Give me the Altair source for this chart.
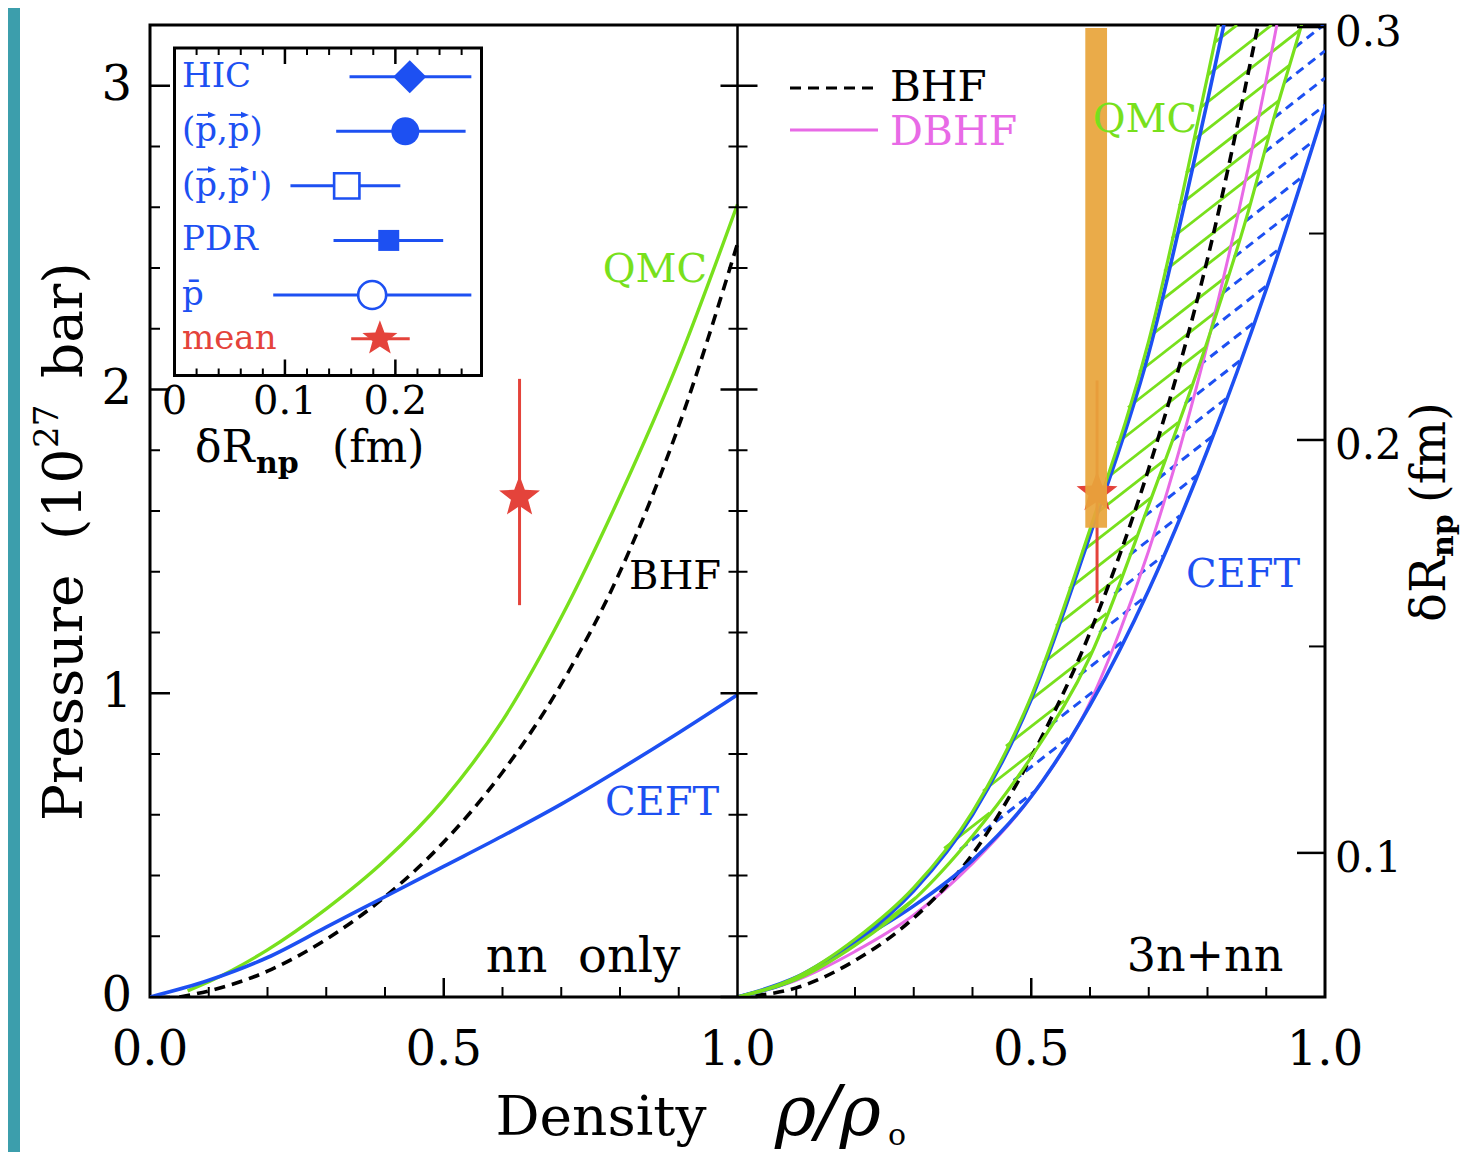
import altair as alt
import numpy as np
import pandas as pd

FONT = "DejaVu Serif"
BLUE = "#1d50f2"
GREEN = "#78e01c"
MAGENTA = "#e86ae6"
RED = "#e4433b"
ORANGE = "#e8a53b"
TEAL = "#3c9eac"

# ---------------- data (density rho/rho0, pressure in 1e27 bar) ----------------
# left panel : nn only
NN_QMC_X = [0.064, 0.1, 0.2, 0.3, 0.4, 0.5, 0.6, 0.7, 0.8, 0.9, 1.0]
NN_QMC_P = [0.02, 0.05, 0.155, 0.29, 0.45, 0.65, 0.91, 1.25, 1.65, 2.095, 2.61]
NN_BHF_X = [0.05, 0.1, 0.2, 0.3, 0.4, 0.5, 0.6, 0.7, 0.8, 0.9, 1.0]
NN_BHF_P = [0.0, 0.02, 0.085, 0.19, 0.33, 0.51, 0.74, 1.03, 1.40, 1.88, 2.48]
NN_CEFT_X = [0.0, 0.1, 0.2, 0.3, 0.4, 0.5, 0.6, 0.7, 0.8, 0.9, 1.0]
NN_CEFT_P = [0.0, 0.055, 0.13, 0.23, 0.33, 0.43, 0.53, 0.635, 0.75, 0.87, 0.995]

# right panel : 3n + nn
QMC_UP_X = [0.0, 0.1, 0.2, 0.3, 0.4, 0.5, 0.6, 0.7, 0.8, 0.9]
QMC_UP_P = [0.0, 0.065, 0.19, 0.36, 0.61, 0.99, 1.54, 2.16, 3.03, 3.95]
QMC_LO_X = [0.0, 0.1, 0.2, 0.3, 0.4, 0.5, 0.6, 0.7, 0.8, 0.867, 0.912, 0.96, 1.0]
QMC_LO_P = [0.0, 0.058, 0.17, 0.32, 0.53, 0.79, 1.12, 1.62, 2.16, 2.57, 2.887, 3.2, 3.48]
CEFT_UP_X = [0.0, 0.1, 0.2, 0.3, 0.4, 0.5, 0.6, 0.7, 0.8, 0.9]
CEFT_UP_P = [0.0, 0.06, 0.18, 0.35, 0.60, 0.98, 1.52, 2.12, 2.95, 3.85]
CEFT_LO_X = [0.0, 0.1, 0.2, 0.3, 0.4, 0.5, 0.6, 0.7, 0.8, 0.9, 1.0]
CEFT_LO_P = [0.0, 0.065, 0.18, 0.30, 0.45, 0.66, 0.96, 1.34, 1.80, 2.33, 2.93]
BHF_X = [0.0, 0.1, 0.2, 0.3, 0.4, 0.5, 0.6, 0.7, 0.8, 0.9, 1.0]
BHF_P = [0.0, 0.03, 0.12, 0.26, 0.47, 0.79, 1.20, 1.74, 2.43, 3.33, 4.3]
DBHF_X = [0.0, 0.1, 0.2, 0.3, 0.4, 0.5, 0.6, 0.65, 0.7, 0.8, 0.9, 0.918]
DBHF_P = [0.0, 0.055, 0.15, 0.27, 0.44, 0.66, 0.97, 1.20, 1.47, 2.15, 3.02, 3.2]

# mean constraint (star with error bar) and orange constraint strip
MEAN_NN = {"x": 0.629, "P": 1.646, "lo": 1.29, "hi": 2.035}
MEAN_3N = {"x": 0.612, "P": 1.66, "lo": 1.297, "hi": 2.03}
STRIP = {"x0": 0.592, "x1": 0.629, "p0": 1.545, "p1": 3.19}

# inset: delta R_np (fm)
IN_LABELS = ["HIC", "(p,p)", "(p,p')", "PDR", "p\u0304", "mean"]
IN_ROW = [0, 1, 2, 3, 4, 4.8]
IN_VAL = [0.213, 0.209, 0.156, 0.194, 0.179, 0.186]
IN_LO = [0.1585, 0.1464, 0.105, 0.144, 0.0894, 0.160]
IN_HI = [0.2688, 0.2636, 0.2045, 0.2433, 0.2688, 0.213]
IN_ARROW_ROWS = [1, 2]          # labels whose p's carry a vector arrow
IN_TICK_MAJOR = [0.1, 0.2]
IN_TICK_MINOR = [0.02, 0.04, 0.06, 0.08, 0.12, 0.14, 0.16, 0.18, 0.22, 0.24, 0.26]
IN_LABEL_VAL = [0, 0.1, 0.2]
IN_LABEL_TXT = ["0", "0.1", "0.2"]

# axis ticks and tick labels
P_MAJOR = [0, 1, 2, 3]
P_MINOR = [0.2, 0.4, 0.6, 0.8, 1.2, 1.4, 1.6, 1.8, 2.2, 2.4, 2.6, 2.8]
P_LABELS = ["0", "1", "2", "3"]
X_MAJOR = [0.5]
X_MINOR = [0.1, 0.2, 0.3, 0.4, 0.6, 0.7, 0.8, 0.9]
X_LABEL_VAL = [0.0, 0.5, 1.0, 0.5, 1.0]
X_LABEL_PANEL = [0, 0, 0, 1, 1]
X_LABEL_TXT = ["0.0", "0.5", "1.0", "0.5", "1.0"]
R_MAJOR = [0.1, 0.2, 0.3]
R_MINOR = [0.15, 0.25]
R_LABELS = ["0.1", "0.2", "0.3"]

# ---------------- layout ----------------
W, H = 1175, 972
XS = alt.Scale(domain=[0, 2], nice=False, zero=False)
YS = alt.Scale(domain=[0, 3.2], nice=False, zero=False)
IXS = alt.Scale(domain=[0, 0.278], range=[24.5, 331.5], nice=False, zero=False)
IYS = alt.Scale(domain=[0, 4], range=[51.7, 270], nice=False, zero=False)
RYS = alt.Scale(domain=[0.0651, 0.3005], nice=False, zero=False)

pts = []
for k in range(10):
    a = -np.pi / 2 + k * np.pi / 5
    r = 1.0 if k % 2 == 0 else 0.42
    pts.append(f"{r*np.cos(a):.4f},{r*np.sin(a):.4f}")
STAR = "M" + "L".join(pts) + "Z"
ARROW_HEAD = "M-1,-0.8L1,0L-1,0.8Z"


def one():
    return pd.DataFrame({"k": [0]})


def txt(s, x, y, size, color="black", **kw):
    return alt.Chart(pd.DataFrame({"t": [s]})).mark_text(
        font=FONT, fontSize=size, color=color, **kw
    ).encode(text="t:N", x=alt.value(x), y=alt.value(y))


def prule(x, x2, y, y2, color="black", width=3.0, dash=None):
    kw = dict(color=color, strokeWidth=width)
    if dash:
        kw["strokeDash"] = dash
    return alt.Chart(one()).mark_rule(**kw).encode(
        x=alt.value(x), x2=alt.value(x2), y=alt.value(y), y2=alt.value(y2))


def curve(xs, ps, color, offset=0.0, dash=None, width=3.6):
    df = pd.DataFrame({"X": [x + offset for x in xs], "P": ps})
    kw = dict(color=color, strokeWidth=width, clip=True, interpolate="monotone")
    if dash:
        kw["strokeDash"] = dash
    return alt.Chart(df).mark_line(**kw).encode(
        x=alt.X("X:Q", scale=XS, axis=None), y=alt.Y("P:Q", scale=YS, axis=None))


def hatch(ux, up, dx, dp, phase, step=0.089, slope=1.51):
    xg = np.linspace(0, 1, 4001)
    U = np.interp(xg, ux, up)
    D = np.interp(xg, dx, dp)
    segs = []
    b = -2.0 + phase * step
    while b < 3.3:
        L = slope * xg + b
        inside = (L <= U) & (L >= D) & (L <= 3.2) & (L >= 0.15)
        idx = np.flatnonzero(inside)
        if idx.size > 1:
            runs = np.split(idx, np.flatnonzero(np.diff(idx) > 1) + 1)
            for r in runs:
                if r.size > 1 and xg[r[-1]] - xg[r[0]] > 0.004:
                    x0, x1 = xg[r[0]], xg[r[-1]]
                    segs.append((1 + x0, slope * x0 + b, 1 + x1, slope * x1 + b))
        b += step
    return pd.DataFrame(segs, columns=["X0", "P0", "X1", "P1"])


def seg_chart(df, color, dash=None, width=2.8):
    kw = dict(color=color, strokeWidth=width, clip=True)
    if dash:
        kw["strokeDash"] = dash
    return alt.Chart(df).mark_rule(**kw).encode(
        x=alt.X("X0:Q", scale=XS, axis=None), y=alt.Y("P0:Q", scale=YS, axis=None),
        x2="X1:Q", y2="P1:Q")


def mean_marks(m, offset):
    df = pd.DataFrame({"X": [m["x"] + offset], "P": [m["P"]], "lo": [m["lo"]], "hi": [m["hi"]]})
    bar = alt.Chart(df).mark_rule(color=RED, strokeWidth=3).encode(
        x=alt.X("X:Q", scale=XS, axis=None), y=alt.Y("lo:Q", scale=YS, axis=None), y2="hi:Q")
    star = alt.Chart(df).mark_point(shape=STAR, filled=True, color=RED, size=1850, opacity=1).encode(
        x=alt.X("X:Q", scale=XS, axis=None), y=alt.Y("P:Q", scale=YS, axis=None))
    return [bar, star]


# ---------------- main layer ----------------
main = []
main.append(alt.Chart(one()).mark_rect(color=TEAL).encode(
    x=alt.value(-142), x2=alt.value(-130), y=alt.value(-17), y2=alt.value(1135)))

# hatching (right panel)
main.append(seg_chart(hatch(QMC_LO_X, QMC_LO_P, CEFT_LO_X, CEFT_LO_P, 0.5), BLUE, dash=[9, 6], width=3))
main.append(seg_chart(hatch(QMC_UP_X, QMC_UP_P, QMC_LO_X, QMC_LO_P, 0.0), GREEN, width=2.8))

# right panel curves
main.append(curve(DBHF_X, DBHF_P, MAGENTA, offset=1, width=3))
main.append(curve(BHF_X, BHF_P, "black", offset=1, dash=[11, 7]))
main.append(curve(CEFT_LO_X, CEFT_LO_P, BLUE, offset=1))
main.append(curve(CEFT_UP_X, CEFT_UP_P, BLUE, offset=1))
main.append(curve(QMC_LO_X, QMC_LO_P, GREEN, offset=1, width=3.2))
main.append(curve(QMC_UP_X, QMC_UP_P, GREEN, offset=1, width=3.2))

# left panel curves
main.append(curve(NN_QMC_X, NN_QMC_P, GREEN, width=3.4))
main.append(curve(NN_BHF_X, NN_BHF_P, "black", dash=[11, 7]))
main.append(curve(NN_CEFT_X, NN_CEFT_P, BLUE))

main += mean_marks(MEAN_NN, 0)
main += mean_marks(MEAN_3N, 1)
strip_df = pd.DataFrame({"x0": [STRIP["x0"] + 1], "x1": [STRIP["x1"] + 1],
                         "p0": [STRIP["p0"]], "p1": [STRIP["p1"]]})
main.append(alt.Chart(strip_df).mark_rect(color=ORANGE, opacity=0.93).encode(
    x=alt.X("x0:Q", scale=XS, axis=None), x2="x1:Q",
    y=alt.Y("p0:Q", scale=YS, axis=None), y2="p1:Q"))

# panel divider
main.append(prule(W / 2, W / 2, 0, H, width=2.5))

# axis ticks (inward)
main.append(alt.Chart(pd.DataFrame({"P": P_MAJOR})).mark_rule(color="black", strokeWidth=2.5).encode(
    y=alt.Y("P:Q", scale=YS, axis=None), x=alt.value(0), x2=alt.value(20)))
main.append(alt.Chart(pd.DataFrame({"P": P_MINOR})).mark_rule(color="black", strokeWidth=2).encode(
    y=alt.Y("P:Q", scale=YS, axis=None), x=alt.value(0), x2=alt.value(10)))
main.append(alt.Chart(pd.DataFrame({"P": P_MAJOR})).mark_rule(color="black", strokeWidth=2.5).encode(
    y=alt.Y("P:Q", scale=YS, axis=None), x=alt.value(W / 2 - 17), x2=alt.value(W / 2 + 20)))
main.append(alt.Chart(pd.DataFrame({"P": P_MINOR})).mark_rule(color="black", strokeWidth=2).encode(
    y=alt.Y("P:Q", scale=YS, axis=None), x=alt.value(W / 2 - 9), x2=alt.value(W / 2 + 10)))
xmaj = [v + o for o in (0, 1) for v in X_MAJOR]
xmin = [v + o for o in (0, 1) for v in X_MINOR]
main.append(alt.Chart(pd.DataFrame({"X": xmaj})).mark_rule(color="black", strokeWidth=2.5).encode(
    x=alt.X("X:Q", scale=XS, axis=None), y=alt.value(H), y2=alt.value(H - 19)))
main.append(alt.Chart(pd.DataFrame({"X": xmin})).mark_rule(color="black", strokeWidth=2).encode(
    x=alt.X("X:Q", scale=XS, axis=None), y=alt.value(H), y2=alt.value(H - 10)))

# tick labels
main.append(alt.Chart(pd.DataFrame({"P": P_MAJOR, "t": P_LABELS})).mark_text(
    font=FONT, fontSize=48, align="right", baseline="middle").encode(
    y=alt.Y("P:Q", scale=YS, axis=None), x=alt.value(-18), text="t:N"))
xl = pd.DataFrame({"X": [v + o for v, o in zip(X_LABEL_VAL, X_LABEL_PANEL)], "t": X_LABEL_TXT})
main.append(alt.Chart(xl).mark_text(font=FONT, fontSize=48, baseline="middle").encode(
    x=alt.X("X:Q", scale=XS, axis=None), y=alt.value(H + 54), text="t:N"))

# in-plot annotations
main.append(txt("QMC", 505, 245, 40, GREEN))
main.append(txt("BHF", 525, 552, 40))
main.append(txt("CEFT", 512, 778, 40, BLUE))
main.append(txt("nn\u00a0\u00a0only", 433, 933, 48))
main.append(txt("QMC", 995, 95, 40, GREEN))
main.append(txt("CEFT", 1093, 550, 40, BLUE))
main.append(txt("3n+nn", 1055, 932, 46))
main.append(prule(640, 728, 63, 63, dash=[11, 7]))
main.append(txt("BHF", 740, 63, 42, align="left"))
main.append(prule(640, 728, 105, 105, color=MAGENTA, width=3))
main.append(txt("DBHF", 740, 108, 41, MAGENTA, align="left"))

# axis titles
TL = dict(align="left", baseline="alphabetic", angle=270)
main.append(txt("Pressure", -68, 796, 55, **TL))
main.append(txt("(10", -68, 515, 55, **TL))
main.append(txt("27", -92, 423, 34, **TL))
main.append(txt("bar)", -68, 353, 55, **TL))
main.append(txt("Density", 451, 1110, 55, baseline="alphabetic"))
main.append(txt("\u03c1/\u03c1", 625, 1110, 70, align="left", baseline="alphabetic", fontStyle="italic"))
main.append(txt("o", 738, 1120, 30, align="left", baseline="alphabetic"))
main.append(txt("\u03b4R", 1295, 597, 48, **TL))
main.append(txt("np", 1303, 532, 30, fontWeight="bold", **TL))
main.append(txt("(fm)", 1295, 478, 48, **TL))

main_layer = alt.layer(*main)

# ---------------- inset layer ----------------
ins = []
ins.append(alt.Chart(one()).mark_rect(fill="white", stroke="black", strokeWidth=3).encode(
    x=alt.value(24.5), x2=alt.value(331.5), y=alt.value(23), y2=alt.value(350.5)))
for vals, ln, sw in ((IN_TICK_MAJOR, 16, 2.5), (IN_TICK_MINOR, 7, 2)):
    d = pd.DataFrame({"v": vals})
    ins.append(alt.Chart(d).mark_rule(color="black", strokeWidth=sw).encode(
        x=alt.X("v:Q", scale=IXS, axis=None), y=alt.value(350.5), y2=alt.value(350.5 - ln)))
    ins.append(alt.Chart(d).mark_rule(color="black", strokeWidth=sw).encode(
        x=alt.X("v:Q", scale=IXS, axis=None), y=alt.value(23), y2=alt.value(23 + ln)))

idf = pd.DataFrame({"row": IN_ROW, "val": IN_VAL, "lo": IN_LO, "hi": IN_HI, "lab": IN_LABELS,
                    "c": [BLUE] * 5 + [RED]})
ins.append(alt.Chart(idf).mark_rule(strokeWidth=3).encode(
    x=alt.X("lo:Q", scale=IXS, axis=None), x2="hi:Q",
    y=alt.Y("row:Q", scale=IYS, axis=None), color=alt.Color("c:N", scale=None)))

SHAPES = ["diamond", "circle", "square", "square", "circle", STAR]
FILLED = [True, True, False, True, False, True]
SIZES = [1089, 784, 640, 441, 784, 1355]
for i in range(6):
    d = idf.iloc[[i]]
    col = RED if i == 5 else BLUE
    if FILLED[i]:
        mk = alt.Chart(d).mark_point(shape=SHAPES[i], filled=True, color=col, size=SIZES[i], opacity=1)
    else:
        mk = alt.Chart(d).mark_point(shape=SHAPES[i], filled=True, fill="white", stroke=col,
                                     strokeWidth=2.6, size=SIZES[i], opacity=1)
    ins.append(mk.encode(x=alt.X("val:Q", scale=IXS, axis=None), y=alt.Y("row:Q", scale=IYS, axis=None)))

ins.append(alt.Chart(idf).mark_text(font=FONT, fontSize=34, align="left", baseline="middle").encode(
    x=alt.value(32), y=alt.Y("row:Q", scale=IYS, axis=None), text="lab:N",
    color=alt.Color("c:N", scale=None)))

# vector arrows over the p's of the (p,p) and (p,p') labels (drawn as small line + head)
arr = pd.DataFrame({"row": IN_ARROW_ROWS})
arr_y = alt.Y("ay:Q", scale=IYS, axis=None)
for px in (56, 89):
    base = alt.Chart(arr).transform_calculate(ay="datum.row - 0.3")
    ins.append(base.mark_rule(color=BLUE, strokeWidth=2).encode(
        x=alt.value(px - 9), x2=alt.value(px + 6), y=arr_y))
    ins.append(base.mark_point(shape=ARROW_HEAD, filled=True, color=BLUE, size=64, opacity=1).encode(
        x=alt.value(px + 6), y=arr_y))

ins.append(alt.Chart(pd.DataFrame({"v": IN_LABEL_VAL, "t": IN_LABEL_TXT})).mark_text(
    font=FONT, fontSize=40, baseline="middle").encode(
    x=alt.X("v:Q", scale=IXS, axis=None), y=alt.value(377), text="t:N"))
ins.append(txt("\u03b4R", 45, 437, 44, align="left", baseline="alphabetic"))
ins.append(txt("np", 106, 448, 30, align="left", baseline="alphabetic", fontWeight="bold"))
ins.append(txt("(fm)", 182, 437, 44, align="left", baseline="alphabetic"))
inset_layer = alt.layer(*ins)

# ---------------- right delta-R axis ----------------
right_layer = alt.layer(
    alt.Chart(pd.DataFrame({"d": R_MAJOR})).mark_rule(color="black", strokeWidth=2.5).encode(
        y=alt.Y("d:Q", scale=RYS, axis=None), x=alt.value(W - 28), x2=alt.value(W)),
    alt.Chart(pd.DataFrame({"d": R_MINOR})).mark_rule(color="black", strokeWidth=2).encode(
        y=alt.Y("d:Q", scale=RYS, axis=None), x=alt.value(W - 16), x2=alt.value(W)),
    alt.Chart(pd.DataFrame({"d": R_MAJOR, "t": R_LABELS})).mark_text(
        font=FONT, fontSize=42, align="left", baseline="middle", dy=6).encode(
        y=alt.Y("d:Q", scale=RYS, axis=None), x=alt.value(W + 10), text="t:N"),
)

chart = alt.layer(main_layer, inset_layer, right_layer).resolve_scale(
    x="independent", y="independent"
).properties(
    width=W, height=H, background="white",
    autosize=alt.AutoSizeParams(type="none"),
    padding={"left": 142, "top": 17, "right": 137, "bottom": 155},
).configure_view(stroke="black", strokeWidth=3)

chart.save("out.html", embed_options={"renderer": "svg", "actions": False})
